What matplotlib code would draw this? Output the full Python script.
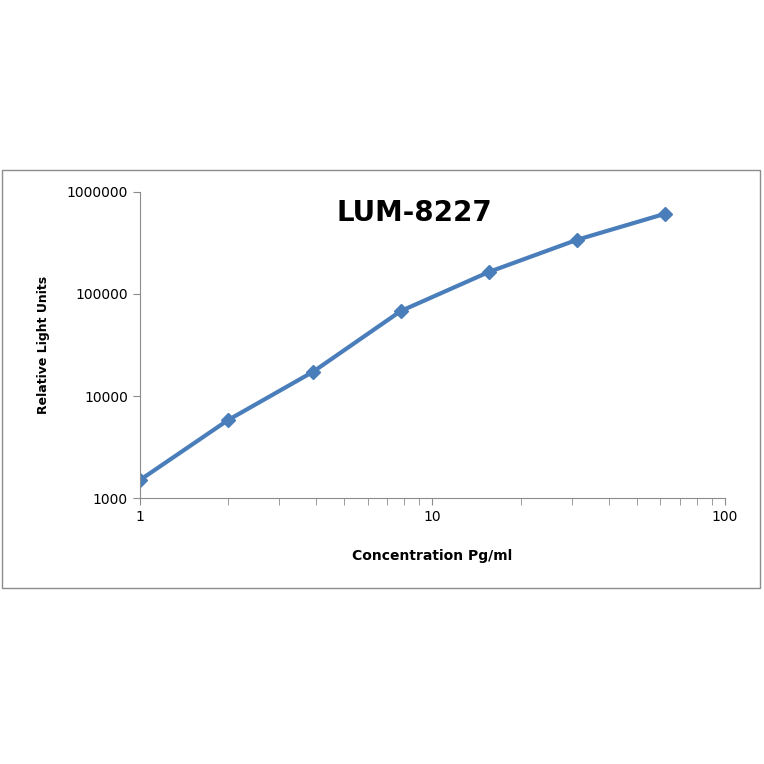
import matplotlib
matplotlib.use("Agg")
import matplotlib.pyplot as plt
from matplotlib.patches import Rectangle
from matplotlib.ticker import LogLocator, FixedLocator, NullFormatter

conc = [1, 2, 3.9, 7.8, 15.6, 31.25, 62.5]
rlu = [1500, 5800, 17200, 68000, 164000, 339000, 610000]
title = "LUM-8227"
xlabel = "Concentration Pg/ml"
ylabel = "Relative Light Units"

fig = plt.figure(figsize=(7.64, 7.64), dpi=100)
fig.patches.append(Rectangle((0.003, 0.23), 0.992, 0.547, transform=fig.transFigure,
                             fill=False, edgecolor="#8c8c8c", linewidth=1))
ax = fig.add_axes([0.183, 0.348, 0.766, 0.401])
ax.plot(conc, rlu, color="#4A7EBB", linewidth=3, marker="D", markersize=7)
ax.set_xscale("log"); ax.set_yscale("log")
ax.set_xlim(1, 100); ax.set_ylim(1000, 1000000)
ax.xaxis.set_major_locator(FixedLocator([1, 10, 100]))
ax.set_xticklabels(["1", "10", "100"])
ax.xaxis.set_minor_locator(LogLocator(base=10, subs=range(2, 10)))
ax.xaxis.set_minor_formatter(NullFormatter())
ax.yaxis.set_major_locator(FixedLocator([1e3, 1e4, 1e5, 1e6]))
ax.set_yticklabels(["1000", "10000", "100000", "1000000"])
ax.yaxis.set_minor_locator(FixedLocator([]))
for s in ["top", "right"]:
    ax.spines[s].set_visible(False)
for s in ["left", "bottom"]:
    ax.spines[s].set_color("#8c8c8c")
ax.tick_params(which="both", color="#8c8c8c", labelsize=10, direction="out")
ax.tick_params(which="major", length=5)
ax.tick_params(which="minor", length=5)
ax.set_xlabel(xlabel, fontsize=10, fontweight="bold", labelpad=18)
ax.set_ylabel(ylabel, fontsize=9, fontweight="bold", labelpad=12)
ax.text(0.47, 0.93, title, transform=ax.transAxes, fontsize=20, fontweight="bold",
        ha="center", va="center")
fig.savefig("out.png", dpi=100, facecolor="white")
